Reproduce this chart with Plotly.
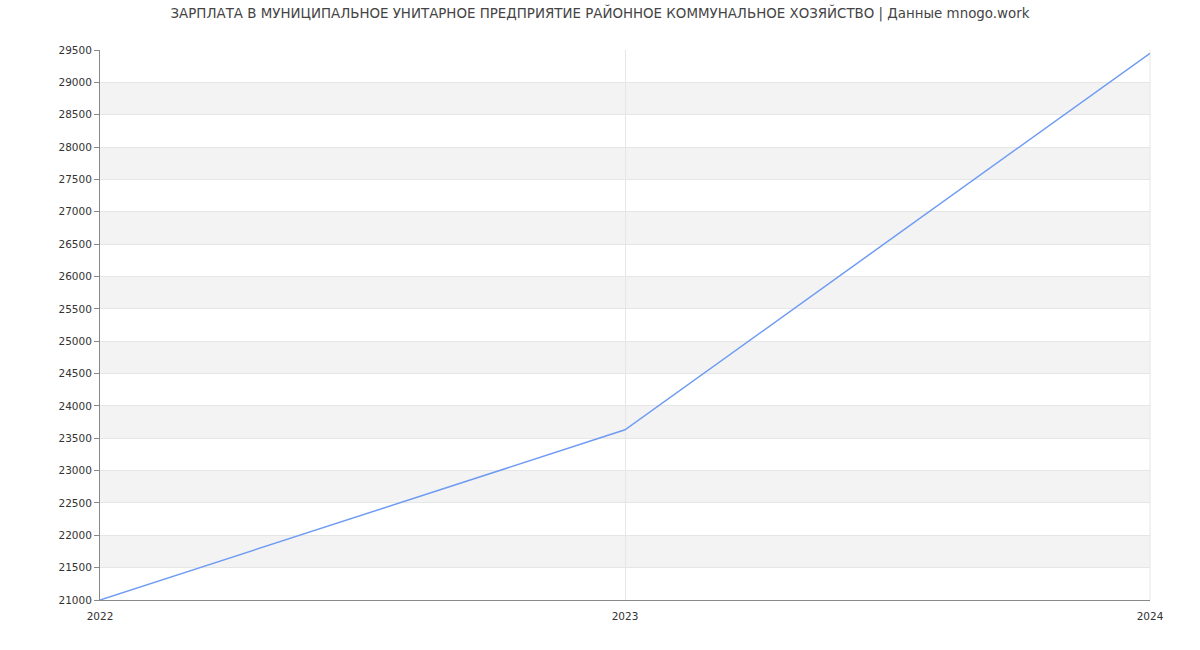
import plotly.graph_objects as go

years = [2022, 2023, 2024]
salary = [21000, 23630, 29450]
y_ticks = list(range(21000, 29501, 500))
x_ticks = [2022, 2023, 2024]
title = "ЗАРПЛАТА В МУНИЦИПАЛЬНОЕ УНИТАРНОЕ ПРЕДПРИЯТИЕ РАЙОННОЕ КОММУНАЛЬНОЕ ХОЗЯЙСТВО | Данные mnogo.work"

fig = go.Figure()
fig.add_trace(go.Scatter(x=years, y=salary, mode="lines",
                         line=dict(color="#6f9cf3", width=1.5), hoverinfo="x+y"))

shapes = []
for lo in y_ticks[1:-1:2]:
    shapes.append(dict(type="rect", xref="paper", yref="y", x0=0, x1=1, y0=lo, y1=lo + 500,
                       fillcolor="#f3f3f3", line=dict(width=0), layer="below"))

fig.update_layout(
    width=1200, height=650,
    margin=dict(l=100, r=50, t=50, b=50),
    paper_bgcolor="white", plot_bgcolor="white",
    font=dict(family="DejaVu Sans", size=10.5, color="#333"),
    title=dict(text=title, x=0.5, xanchor="center", y=0.987, yanchor="top",
               font=dict(family="DejaVu Sans", size=13.4, color="#444")),
    showlegend=False,
    shapes=shapes,
    xaxis=dict(range=[2022, 2024], tickvals=x_ticks, ticktext=[str(v) for v in x_ticks],
               showgrid=True, gridcolor="#e6e6e6", gridwidth=1,
               showline=True, linecolor="#888", linewidth=1, mirror=False,
               ticks="outside", ticklen=6, tickcolor="rgba(0,0,0,0)", zeroline=False,
               tickfont=dict(size=10.5, color="#333")),
    yaxis=dict(range=[21000, 29500], tickvals=y_ticks, ticktext=[str(v) for v in y_ticks],
               showgrid=True, gridcolor="#e6e6e6",
               showline=True, linecolor="#888", linewidth=1, ticks="outside", ticklen=5,
               tickcolor="#888", zeroline=False, tickfont=dict(size=10.5, color="#333")),
)
fig.add_shape(type="line", xref="paper", yref="paper", x0=1, x1=1, y0=0, y1=1,
              line=dict(color="#e6e6e6", width=1), layer="below")

fig.write_html("out.html")
